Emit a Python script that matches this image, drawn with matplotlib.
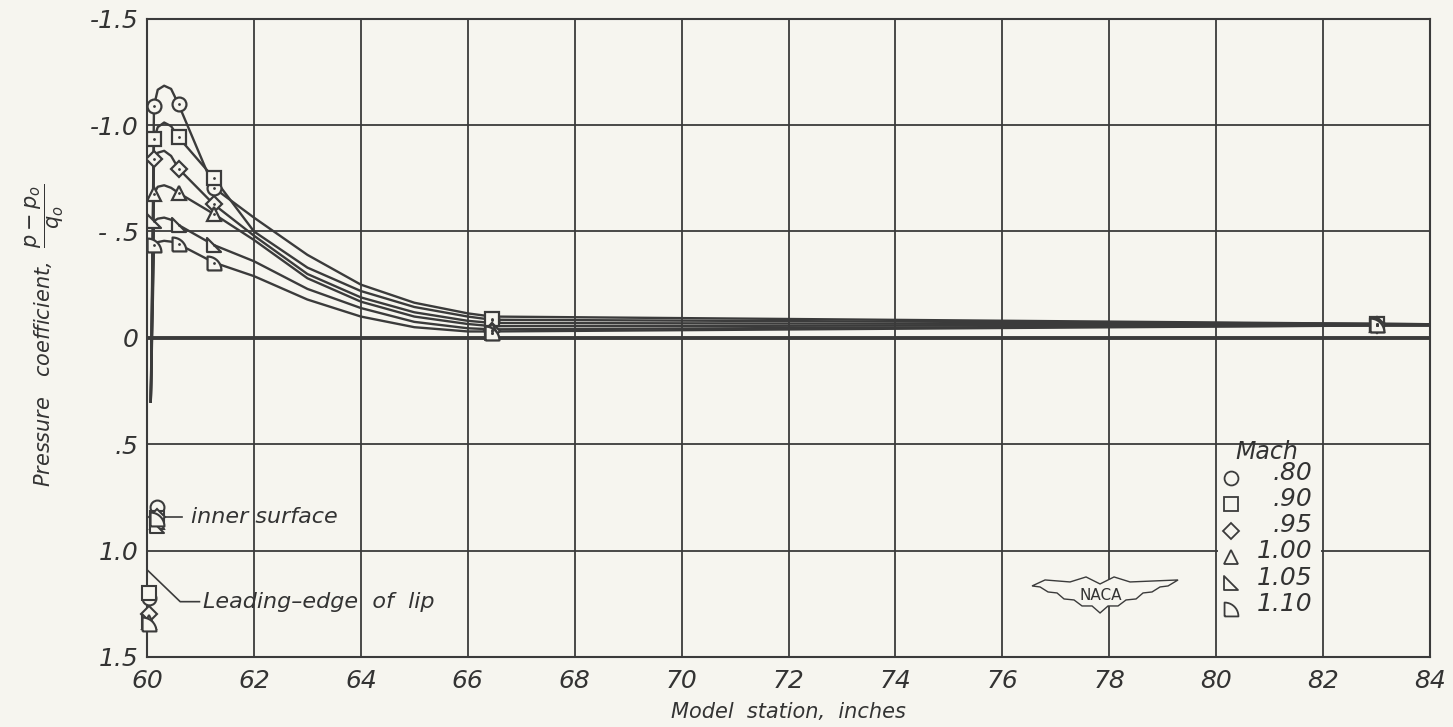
import numpy as np
import matplotlib.pyplot as plt
from matplotlib.path import Path
from matplotlib.patches import Polygon, Rectangle

plt.rcParams['font.family'] = ['DejaVu Sans']
plt.rcParams['font.style'] = 'italic'
plt.rcParams['mathtext.fontset'] = 'dejavusans'

ink = '#3b3b3b'
paper = '#f6f5ef'

mach = ['.80', '.90', '.95', '1.00', '1.05', '1.10']

# measured orifice stations, inches
station = [60.13, 60.59, 61.25, 66.45, 83.0]
cp_080 = [-1.09, -1.097, -0.705, -0.085, -0.066]
cp_090 = [-0.934, -0.942, -0.751, -0.09, -0.066]
cp_095 = [-0.84, -0.795, -0.627, -0.03, -0.062]
cp_100 = [-0.677, -0.681, -0.582, -0.035, -0.06]
cp_105 = [-0.549, -0.530, -0.436, -0.025, -0.06]
cp_110 = [-0.436, -0.440, -0.354, -0.025, -0.06]

# faired curves through the data
fair_x = [60.07, 60.13, 60.2, 60.32, 60.45, 60.59, 61.25, 62, 63, 64, 65, 66, 66.45, 83, 84]
fair_080 = [0.30, -1.09, -1.166, -1.185, -1.17, -1.097, -0.705, -0.565, -0.39, -0.25, -0.165, -0.115, -0.10, -0.066, -0.064]
fair_090 = [0.30, -0.934, -0.99, -1.012, -0.995, -0.942, -0.751, -0.50, -0.33, -0.22, -0.145, -0.10, -0.085, -0.066, -0.064]
fair_095 = [0.30, -0.84, -0.87, -0.879, -0.855, -0.795, -0.627, -0.48, -0.30, -0.19, -0.12, -0.08, -0.07, -0.062, -0.06]
fair_100 = [0.30, -0.677, -0.71, -0.717, -0.705, -0.681, -0.582, -0.46, -0.28, -0.17, -0.10, -0.065, -0.055, -0.06, -0.06]
fair_105 = [0.30, -0.549, -0.56, -0.565, -0.555, -0.530, -0.436, -0.36, -0.23, -0.14, -0.075, -0.045, -0.04, -0.058, -0.058]
fair_110 = [0.30, -0.436, -0.45, -0.456, -0.452, -0.440, -0.354, -0.29, -0.18, -0.10, -0.05, -0.03, -0.03, -0.058, -0.058]

# inner surface and leading edge of lip
inner_x = 60.18
inner_cp = [0.795, 0.845, 0.84, 0.865, 0.885, 0.85]
lip_x = 60.04
lip_cp = [1.225, 1.20, 1.30, 1.335, 1.33, 1.345]

x_ticks = list(range(60, 85, 2))
y_ticks = [-1.5, -1.0, -0.5, 0, 0.5, 1.0, 1.5]
y_tick_labels = ['-1.5', '-1.0', '- .5', '0', '.5', '1.0', '1.5']

cp_data = [cp_080, cp_090, cp_095, cp_100, cp_105, cp_110]
fair_data = [fair_080, fair_090, fair_095, fair_100, fair_105, fair_110]

# symbols: circle, square, diamond, triangle, flagged triangle, D
tri_flag = Path([(-0.5, 0.5), (-0.5, -0.5), (0.5, -0.5), (-0.5, 0.5)],
                [Path.MOVETO, Path.LINETO, Path.LINETO, Path.CLOSEPOLY])
t = np.linspace(0, np.pi / 2, 12)
d_pts = [(-0.5, -0.5), (-0.5, 0.5)] + [(-0.5 + np.sin(a), -0.5 + np.cos(a)) for a in t] + [(-0.5, -0.5)]
d_shape = Path(d_pts)
markers = ['o', 's', 'D', '^', tri_flag, d_shape]
sizes = [10, 10, 8.5, 10, 10, 10]

fig = plt.figure(figsize=(14.53, 7.27), dpi=100, facecolor=paper)
ax = fig.add_axes([0.1012, 0.0963, 0.883, 0.878])
ax.set_facecolor(paper)

ax.set_xlim(60, 84)
ax.set_ylim(1.5, -1.5)
ax.set_xticks(x_ticks)
ax.set_yticks(y_ticks)
ax.set_yticklabels(y_tick_labels)
ax.tick_params(length=0, labelsize=18, colors='#333333')
ax.tick_params(axis='x', pad=9)
ax.tick_params(axis='y', pad=6)
ax.grid(True, color=ink, lw=1.3)
ax.set_axisbelow(True)
for s in ax.spines.values():
    s.set_color(ink)
    s.set_linewidth(1.5)
ax.axhline(0, color=ink, lw=2.8, zorder=1)

for fy in fair_data:
    ax.plot(fair_x, fy, color=ink, lw=1.7, zorder=3)

for cp, m, ms in zip(cp_data, markers, sizes):
    ax.plot(station, cp, ls='none', marker=m, ms=ms, mfc=paper, mec=ink, mew=1.6, zorder=4)
    ax.plot(station, cp, ls='none', marker='.', ms=2, color=ink, zorder=5)

for i, (m, ms) in enumerate(zip(markers, sizes)):
    ax.plot(inner_x, inner_cp[i], ls='none', marker=m, ms=ms, mfc=paper, mec=ink, mew=1.5, zorder=4)
    ax.plot(lip_x, lip_cp[i], ls='none', marker=m, ms=ms, mfc=paper, mec=ink, mew=1.5, zorder=4, clip_on=False)

# annotations
ax.plot([60.34, 60.66], [0.84, 0.84], color=ink, lw=1.2)
ax.text(60.82, 0.84, 'inner surface', fontsize=16, color='#333333', va='center', ha='left')
ax.plot([60.0, 60.62, 60.98], [1.09, 1.24, 1.24], color=ink, lw=1.2)
ax.text(61.05, 1.24, 'Leading\u2013edge  of  lip', fontsize=16, color='#333333', va='center', ha='left')

# key
ax.add_patch(Rectangle((80.04, 0.51), 1.92, 0.98, facecolor=paper, edgecolor='none', zorder=2))
ax.text(80.95, 0.535, 'Mach', fontsize=17, color='#333333', ha='center', va='center', zorder=6)
for i, (lab, m, ms) in enumerate(zip(mach, markers, sizes)):
    yy = 0.66 + i * 0.123
    ax.plot(80.27, yy, ls='none', marker=m, ms=ms, mfc=paper, mec=ink, mew=1.3, zorder=6)
    ax.text(81.8, yy - 0.025, lab, fontsize=18, color='#333333', ha='right', va='center', zorder=6)

# NACA wings
def to_ax(px, py):
    return ((px - 147) / 1283, 1 - (py - 19) / 638)

wing = [(1045, 580), (1070, 582), (1086, 577), (1100, 584), (1114, 577), (1130, 582), (1178, 580),
        (1168, 586), (1160, 587), (1152, 592), (1143, 593), (1136, 599), (1126, 600), (1118, 606),
        (1108, 606), (1100, 613), (1092, 606), (1082, 606), (1074, 600), (1064, 599), (1057, 593),
        (1048, 592), (1040, 587), (1032, 586)]
ax.add_patch(Polygon([to_ax(*p) for p in wing], closed=True, transform=ax.transAxes,
                     facecolor=paper, edgecolor=ink, lw=1.0, zorder=6))
cx, cy = to_ax(1101, 596)
ax.text(cx, cy, 'NACA', transform=ax.transAxes, fontsize=11, style='normal',
        color='#333333', ha='center', va='center', zorder=7)

ax.set_xlabel('Model  station,  inches', fontsize=15, color='#333333', labelpad=6)
fig.text(45 / 1453, 1 - 335 / 727, r'Pressure   coefficient,  $\dfrac{p-p_o}{q_o}$',
         rotation=90, fontsize=15, color='#333333', ha='center', va='center')

fig.savefig('out.png', dpi=100, facecolor=paper)
